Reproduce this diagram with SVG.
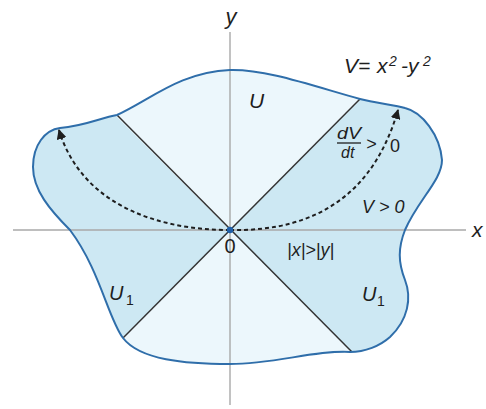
<svg xmlns="http://www.w3.org/2000/svg" width="486" height="409" viewBox="0 0 486 409">
  <defs>
    <style>
      .lbl { font-family: "Liberation Sans", Arial, sans-serif; fill: #1e1e1e; font-style: italic; }
      .num { font-family: "Liberation Sans", Arial, sans-serif; fill: #1e1e1e; }
      .axis { stroke: #a8a8a8; stroke-width: 1.4; fill: none; }
      .diag { stroke: #333333; stroke-width: 1.5; fill: none; }
      .dash { stroke: #1e1e1e; stroke-width: 2; fill: none; stroke-dasharray: 4 3; }
    </style>
    <path id="region" d="M117,115 C150,100 180,72 230,70 C265,69 310,85 360,99 C375,103 395,105 405,108 C422,112 440,135 442,160 C442,180 418,200 405,230 C398,248 398,262 405,280 C412,298 408,320 390,337 C380,346 365,352 350,352 C315,350 275,364 230,364 C185,364 140,360 123,338 C108,318 100,270 70,230 C50,210 33,190 33,167 C33,145 45,130 60,128 C85,126 100,118 117,115 Z"/>
    <clipPath id="clipRegion"><use href="#region"/></clipPath>
    <marker id="arrow" viewBox="0 0 10 10" refX="9" refY="5" markerWidth="10" markerHeight="10" markerUnits="userSpaceOnUse" orient="auto">
      <path d="M0,0 L10,5 L0,10 Z" fill="#1e1e1e"/>
    </marker>
  </defs>

  <g id="region-fill">
    <use href="#region" fill="#cde8f3"/>
    <g clip-path="url(#clipRegion)">
      <polygon points="230,230 -100,-100 560,-100" fill="#ecf7fc"/>
      <polygon points="230,230 -100,560 560,560" fill="#ecf7fc"/>
    </g>
  </g>

  <g id="axes">
    <line class="axis" x1="13" y1="230" x2="466" y2="230"/>
    <line class="axis" x1="230" y1="32" x2="230" y2="405"/>
  </g>

  <g id="diagonals">
    <line class="diag" x1="117" y1="115" x2="352" y2="352"/>
    <line class="diag" x1="360" y1="99" x2="123" y2="338"/>
  </g>

  <g id="boundary">
    <use href="#region" fill="none" stroke="#2f6eaa" stroke-width="2"/>
  </g>

  <g id="connectors">
    <path class="dash" d="M230,230 C320,232 375,190 398,110" marker-end="url(#arrow)"/>
    <path class="dash" d="M230,230 C150,230 80,200 59,130" marker-end="url(#arrow)"/>
  </g>

  <g id="origin">
    <circle cx="230" cy="230" r="3.2" fill="#1f5fa8"/>
    <text class="num" x="230" y="253" font-size="20" text-anchor="middle">0</text>
  </g>

  <g id="labels">
    <text class="lbl" x="231" y="24" font-size="22" text-anchor="middle">y</text>
    <text class="lbl" x="472" y="237" font-size="21">x</text>
    <text class="lbl" x="249" y="108" font-size="21">U</text>
    <text class="lbl" x="109" y="300" font-size="20">U</text>
    <text class="num" x="126" y="305" font-size="14">1</text>
    <text class="lbl" x="362" y="301" font-size="20">U</text>
    <text class="num" x="377" y="306" font-size="14">1</text>
    <text class="lbl" font-size="21"><tspan x="344" y="73">V=</tspan><tspan x="377" y="73">x</tspan><tspan x="389" y="66" font-size="14">2</tspan><tspan x="401" y="73">-y</tspan><tspan x="423" y="66" font-size="14">2</tspan></text>
    <text class="lbl" x="337" y="139" font-size="16" textLength="24" lengthAdjust="spacingAndGlyphs">dV</text>
    <line x1="337" y1="143" x2="361" y2="143" stroke="#1e1e1e" stroke-width="1.3"/>
    <text class="lbl" x="341" y="158" font-size="16">dt</text>
    <text class="lbl" x="366" y="150" font-size="18">&gt;</text>
    <text class="num" x="390" y="152" font-size="18">0</text>
    <text class="lbl" x="362" y="213" font-size="18">V &gt; 0</text>
    <text class="lbl" x="287" y="256" font-size="18">|x|&gt;|y|</text>
  </g>
</svg>
